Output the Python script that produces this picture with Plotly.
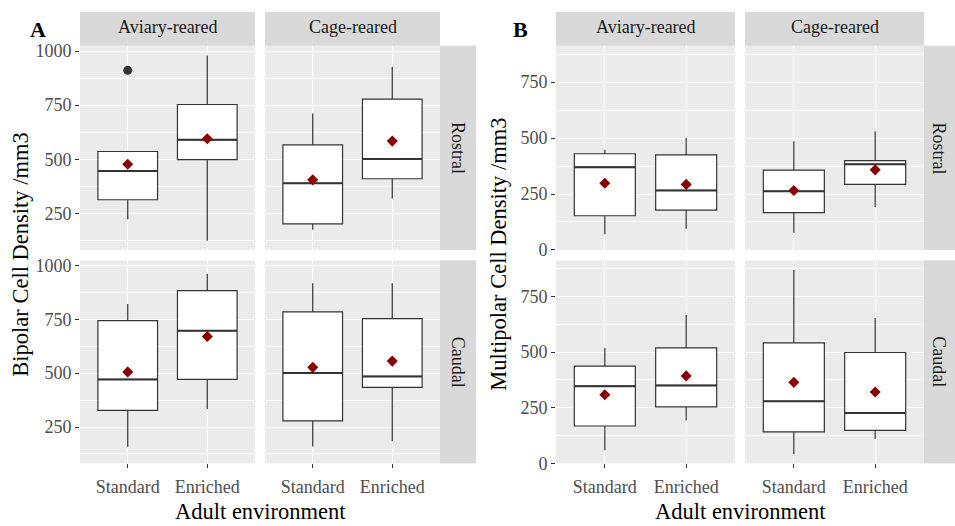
import plotly.graph_objects as go

W, H = 955, 526

environments = ["Standard", "Enriched"]
rearing = ["Aviary-reared", "Cage-reared"]
regions = ["Rostral", "Caudal"]

# Facet order: Aviary/Rostral, Cage/Rostral, Aviary/Caudal, Cage/Caudal
# Each inner pair: [Standard, Enriched]
bipolar_q1 = [[313, 498], [202, 410], [327, 471], [279, 434]]
bipolar_median = [[446, 590], [389, 501], [471, 697], [501, 485]]
bipolar_q3 = [[536, 753], [567, 778], [744, 883], [785, 753]]
bipolar_low = [[223, 124], [175, 319], [158, 334], [160, 184]]
bipolar_high = [[536, 980], [711, 926], [821, 961], [917, 917]]
bipolar_mean = [[477, 595], [405, 584], [506, 670], [527, 556]]
# (facet index, environment index, value)
bipolar_outliers = [(0, 0, 911)]

multipolar_q1 = [[153, 178], [167, 293], [168, 254], [142, 148]]
multipolar_median = [[370, 266], [262, 383], [347, 350], [279, 226]]
multipolar_q3 = [[430, 425], [357, 399], [437, 519], [541, 498]]
multipolar_low = [[70, 95], [77, 192], [59, 193], [41, 110]]
multipolar_high = [[448, 501], [486, 531], [518, 666], [868, 653]]
multipolar_mean = [[298, 293], [266, 358], [308, 393], [364, 321]]
multipolar_outliers = []

bipolar_ticks = [250, 500, 750, 1000]
bipolar_minor = [125, 375, 625, 875]
multipolar_ticks = [0, 250, 500, 750]
multipolar_minor = [125, 375, 625, 875]

FONT = "Liberation Serif, Times New Roman, serif"
BOX_W = 0.75
X_POS = [1, 2]


def px_x(v):
    return v / W


def px_y(v):
    return 1 - v / H


panels = [
    dict(label="A", title="Bipolar Cell Density /mm3",
         q1=bipolar_q1, med=bipolar_median, q3=bipolar_q3,
         low=bipolar_low, high=bipolar_high, mean=bipolar_mean,
         out=bipolar_outliers,
         cols=[(80, 255), (265, 440)], strip=(440, 476),
         yrange=[81, 1024], yticks=bipolar_ticks, yminor=bipolar_minor,
         ytitle_x=21, label_x=37.5),
    dict(label="B", title="Multipolar Cell Density /mm3",
         q1=multipolar_q1, med=multipolar_median, q3=multipolar_q3,
         low=multipolar_low, high=multipolar_high, mean=multipolar_mean,
         out=multipolar_outliers,
         cols=[(556, 735), (745, 924)], strip=(924, 955),
         yrange=[0, 912], yticks=multipolar_ticks, yminor=multipolar_minor,
         ytitle_x=499, label_x=520),
]
rows = [(43, 252.7), (263.3, 472)]
strip_top = (8, 43)

fig = go.Figure()
layout = {}
shapes = []
annotations = []

tick_font = dict(family=FONT, size=18, color="#4D4D4D")
strip_font = dict(family=FONT, size=18, color="#1A1A1A")
title_font = dict(family=FONT, size=22.5, color="#000000")

n = 0
for p in panels:
    for r, (ytop, ybot) in enumerate(rows):
        for c, (xl, xr) in enumerate(p["cols"]):
            n += 1
            f = r * 2 + c
            xa = "x" if n == 1 else f"x{n}"
            ya = "y" if n == 1 else f"y{n}"
            xkey = "xaxis" if n == 1 else f"xaxis{n}"
            ykey = "yaxis" if n == 1 else f"yaxis{n}"
            bottom = r == 1
            left = c == 0
            layout[xkey] = dict(
                domain=[px_x(xl), px_x(xr)], anchor=ya,
                range=[0.4, 2.6], tickmode="array", tickvals=X_POS,
                ticktext=environments, showticklabels=bottom,
                ticks="outside" if bottom else "", ticklen=4, tickwidth=1.2,
                tickcolor="#333333", tickfont=tick_font,
                ticklabelstandoff=3,
                showgrid=True, gridcolor="white", gridwidth=1.4,
                zeroline=False, showline=False, fixedrange=True,
            )
            layout[ykey] = dict(
                domain=[px_y(ybot), px_y(ytop)], anchor=xa,
                range=p["yrange"], tickmode="array", tickvals=p["yticks"],
                showticklabels=left, ticks="outside" if left else "",
                ticklen=4, tickwidth=1.2, tickcolor="#333333",
                tickfont=tick_font,
                showgrid=True, gridcolor="white", gridwidth=1.4,
                minor=dict(tickvals=p["yminor"], showgrid=True,
                           gridcolor="white", gridwidth=0.7, ticks=""),
                zeroline=False, showline=False, fixedrange=True,
            )

            # boxes
            fig.add_trace(go.Box(
                x=X_POS, q1=p["q1"][f], median=p["med"][f], q3=p["q3"][f],
                lowerfence=p["low"][f], upperfence=p["high"][f],
                width=BOX_W, whiskerwidth=0, fillcolor="white",
                line=dict(color="#333333", width=1.2), boxpoints=False,
                xaxis=xa, yaxis=ya, showlegend=False, hoverinfo="skip",
            ))
            # thicker median bars
            mx, my = [], []
            for xp, m in zip(X_POS, p["med"][f]):
                mx += [xp - BOX_W / 2, xp + BOX_W / 2, None]
                my += [m, m, None]
            fig.add_trace(go.Scatter(
                x=mx, y=my, mode="lines",
                line=dict(color="#333333", width=2),
                xaxis=xa, yaxis=ya, showlegend=False, hoverinfo="skip",
            ))
            # outliers
            ox = [X_POS[e] for (fi, e, v) in p["out"] if fi == f]
            oy = [v for (fi, e, v) in p["out"] if fi == f]
            if ox:
                fig.add_trace(go.Scatter(
                    x=ox, y=oy, mode="markers",
                    marker=dict(symbol="circle", size=9, color="#333333"),
                    xaxis=xa, yaxis=ya, showlegend=False, hoverinfo="skip",
                ))
            # group means
            fig.add_trace(go.Scatter(
                x=X_POS, y=p["mean"][f], mode="markers",
                marker=dict(symbol="diamond", size=8.5, color="#8B0000",
                            line=dict(width=0)),
                xaxis=xa, yaxis=ya, showlegend=False, hoverinfo="skip",
            ))

    # top strips
    for c, (xl, xr) in enumerate(p["cols"]):
        shapes.append(dict(type="rect", xref="paper", yref="paper",
                           x0=px_x(xl), x1=px_x(xr),
                           y0=px_y(strip_top[1]), y1=px_y(strip_top[0]),
                           fillcolor="#D9D9D9", line=dict(width=0),
                           layer="below"))
        annotations.append(dict(text=rearing[c], xref="paper", yref="paper",
                                x=px_x((xl + xr) / 2),
                                y=px_y(sum(strip_top) / 2 - 1.5),
                                showarrow=False, font=strip_font,
                                xanchor="center", yanchor="middle"))
    # right strips
    sl, sr = p["strip"]
    for r, (ytop, ybot) in enumerate(rows):
        shapes.append(dict(type="rect", xref="paper", yref="paper",
                           x0=px_x(sl), x1=px_x(sr),
                           y0=px_y(ybot), y1=px_y(ytop),
                           fillcolor="#D9D9D9", line=dict(width=0),
                           layer="below"))
        annotations.append(dict(text=regions[r], xref="paper", yref="paper",
                                x=px_x((sl + sr) / 2),
                                y=px_y((ytop + ybot) / 2),
                                showarrow=False, font=strip_font,
                                textangle=90,
                                xanchor="center", yanchor="middle"))

    # axis titles
    cx = (p["cols"][0][0] + p["cols"][1][1]) / 2
    annotations.append(dict(text="Adult environment", xref="paper",
                            yref="paper", x=px_x(cx), y=px_y(500),
                            showarrow=False, font=title_font,
                            xanchor="center", yanchor="top", yshift=-6))
    annotations.append(dict(text=p["title"], xref="paper", yref="paper",
                            x=px_x(p["ytitle_x"]),
                            y=px_y((rows[0][0] + rows[1][1]) / 2),
                            showarrow=False, font=title_font, textangle=-90,
                            xanchor="center", yanchor="middle"))
    # panel letter
    annotations.append(dict(text=f"<b>{p['label']}</b>", xref="paper",
                            yref="paper", x=px_x(p["label_x"]), y=px_y(26),
                            showarrow=False,
                            font=dict(family=FONT, size=22, color="#000000"),
                            xanchor="center", yanchor="middle"))

fig.update_layout(
    width=W, height=H,
    margin=dict(l=0, r=0, t=0, b=0),
    paper_bgcolor="white", plot_bgcolor="#EBEBEB",
    showlegend=False, shapes=shapes, annotations=annotations,
    boxmode="overlay",
    **layout,
)

fig.write_html("out.html")
